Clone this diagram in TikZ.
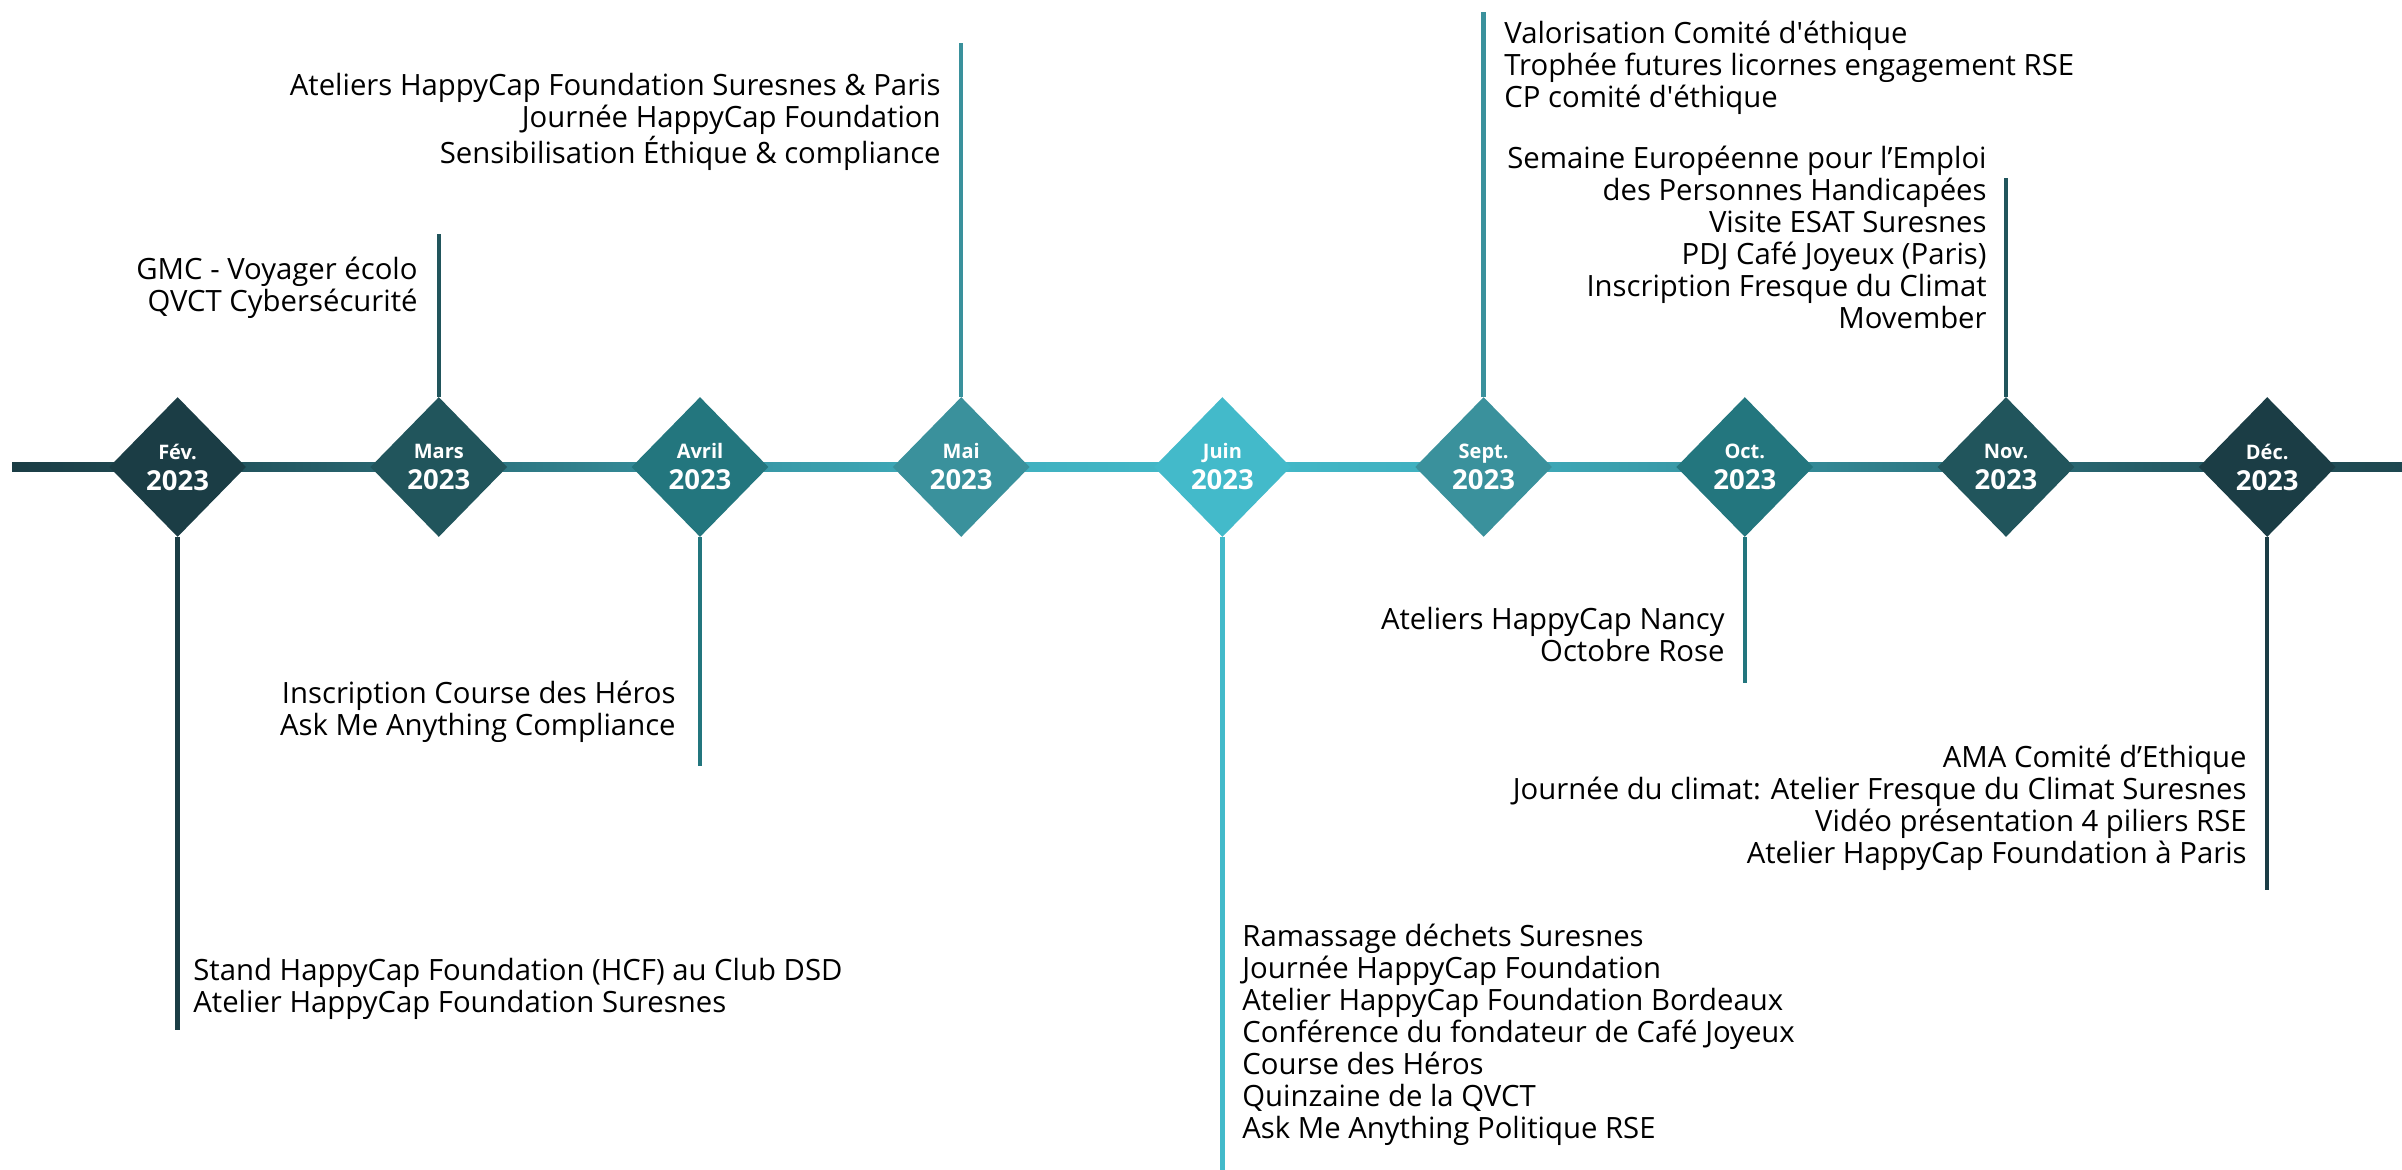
\documentclass[tikz,border=0pt]{standalone}
\usepackage{fontspec}
\setmainfont{Open Sans}
\usetikzlibrary{shapes.geometric}

\definecolor{tdark}{HTML}{1B3D45}
\definecolor{tdeep}{HTML}{21555C}
\definecolor{tmid}{HTML}{23767E}
\definecolor{tsoft}{HTML}{3A919C}
\definecolor{tlight}{HTML}{43BACA}

\pgfdeclarehorizontalshading{timeline}{100bp}{color(0bp)=(tdark); color(25bp)=(tdark);
  color(28.5bp)=(tlight!12!tdark); color(33.9bp)=(tlight!38!tdark); color(39.4bp)=(tlight!68!tdark);
  color(44.9bp)=(tlight!90!tdark); color(50.3bp)=(tlight); color(55.8bp)=(tlight!90!tdark);
  color(61.3bp)=(tlight!68!tdark); color(66.7bp)=(tlight!38!tdark); color(72.2bp)=(tlight!15!tdark);
  color(75bp)=(tlight!8!tdark); color(100bp)=(tlight!8!tdark)}

\tikzset{
  datebox/.style={shape=diamond, fill=#1, minimum width=68.5pt, minimum height=70pt,
    inner sep=0pt, text=white, align=center, font=\bfseries\fontsize{13.75}{15.5}\selectfont},
  stemline/.style={draw=#1, line width=2.2pt},
  eventtext/.style={inner sep=0pt, font=\fontsize{14.65}{16}\selectfont,
    execute at begin node=\strut}
}
\newcommand{\monthname}[1]{{\fontsize{10}{15.5}\selectfont #1}}

\begin{document}
\begin{tikzpicture}[x=0.5pt, y=-0.5pt]
    \useasboundingbox (0,0) rectangle (2402,1170);
    \shade [shading=timeline] (12,463) rectangle (2402,472);

    \node [datebox=tdark]  (fev)   at (177.6,467)  {\monthname{Fév.}\\2023};
    \node [datebox=tdeep]  (mars)  at (438.8,467)  {\monthname{Mars}\\2023};
    \node [datebox=tmid]   (avril) at (700,467)    {\monthname{Avril}\\2023};
    \node [datebox=tsoft]  (mai)   at (961.2,467)  {\monthname{Mai}\\2023};
    \node [datebox=tlight] (juin)  at (1222.4,467) {\monthname{Juin}\\2023};
    \node [datebox=tsoft]  (sept)  at (1483.6,467) {\monthname{Sept.}\\2023};
    \node [datebox=tmid]   (oct)   at (1744.8,467) {\monthname{Oct.}\\2023};
    \node [datebox=tdeep]  (nov)   at (2006,467)   {\monthname{Nov.}\\2023};
    \node [datebox=tdark]  (dec)   at (2267.2,467) {\monthname{Déc.}\\2023};

    \coordinate (fevend)   at (177.6,1030);
    \coordinate (marsend)  at (438.8,234);
    \coordinate (avrilend) at (700,766);
    \coordinate (maiend)   at (961.2,43);
    \coordinate (juinend)  at (1222.4,1170);
    \coordinate (septend)  at (1483.6,12);
    \coordinate (octend)   at (1744.8,683);
    \coordinate (novend)   at (2006,178);
    \coordinate (decend)   at (2267.2,890);

    \draw [stemline=tdark]  (fev.south)   -- (fevend);
    \draw [stemline=tdeep]  (mars.north)  -- (marsend);
    \draw [stemline=tmid]   (avril.south) -- (avrilend);
    \draw [stemline=tsoft]  (mai.north)   -- (maiend);
    \draw [stemline=tlight] (juin.south)  -- (juinend);
    \draw [stemline=tsoft]  (sept.north)  -- (septend);
    \draw [stemline=tmid]   (oct.south)   -- (octend);
    \draw [stemline=tdeep]  (nov.north)   -- (novend);
    \draw [stemline=tdark]  (dec.south)   -- (decend);

    \node [eventtext, anchor=north east, align=right] (marsev) at (418,257)
      {GMC - Voyager écolo\\QVCT Cybersécurité};
    \node [eventtext, anchor=north east, align=right] (maiev) at (941,73)
      {Ateliers HappyCap Foundation Suresnes \& Paris\\Journée HappyCap Foundation\\Sensibilisation Éthique \& compliance};
    \node [eventtext, anchor=north west, align=left] (septev) at (1504,21)
      {Valorisation Comité d\textquotesingle éthique\\Trophée futures licornes engagement RSE\\CP comité d\textquotesingle éthique};
    \node [eventtext, anchor=north east, align=right] (novev) at (1987,146)
      {Semaine Européenne pour l’Emploi\\des Personnes Handicapées\\Visite ESAT Suresnes\\PDJ Café Joyeux (Paris)\\Inscription Fresque du Climat\\Movember};
    \node [eventtext, anchor=north west, align=left] (fevev) at (193,958)
      {Stand HappyCap Foundation (HCF) au Club DSD\\Atelier HappyCap Foundation Suresnes};
    \node [eventtext, anchor=north east, align=right] (avrilev) at (676,681)
      {Inscription Course des Héros\\Ask Me Anything Compliance};
    \node [eventtext, anchor=north west, align=left] (juinev) at (1242,924)
      {Ramassage déchets Suresnes\\Journée HappyCap Foundation\\Atelier HappyCap Foundation Bordeaux\\Conférence du fondateur de Café Joyeux\\Course des Héros\\Quinzaine de la QVCT\\Ask Me Anything Politique RSE};
    \node [eventtext, anchor=north east, align=right] (octev) at (1725,607)
      {Ateliers HappyCap Nancy\\Octobre Rose};
    \node [eventtext, anchor=north east, align=right] (decev) at (2247,745)
      {AMA Comité d’Ethique\\Journée du climat: Atelier Fresque du Climat Suresnes\\Vidéo présentation 4 piliers RSE\\Atelier HappyCap Foundation à Paris};
\end{tikzpicture}
\end{document}
